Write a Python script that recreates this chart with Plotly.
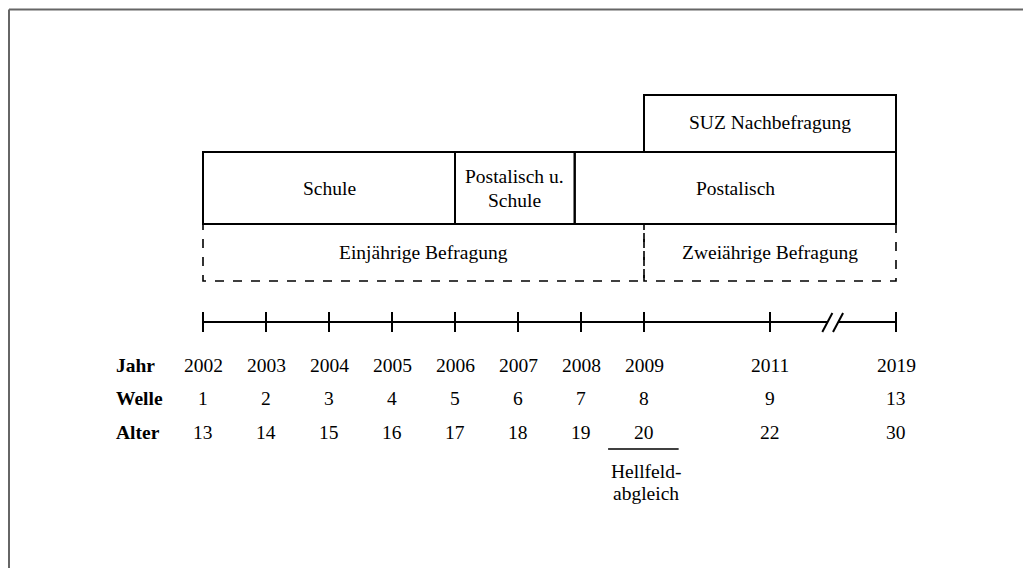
import plotly.graph_objects as go

# ---------------- data ----------------
years = ["2002", "2003", "2004", "2005", "2006", "2007", "2008", "2009", "2011", "2019"]
waves = ["1", "2", "3", "4", "5", "6", "7", "8", "9", "13"]
ages = ["13", "14", "15", "16", "17", "18", "19", "20", "22", "30"]
tick_pos = [0, 1, 2, 3, 4, 5, 6, 7, 9, 11]          # timeline position of each wave
row_labels = ["Jahr", "Welle", "Alter"]

mode_labels = [["Schule"], ["Postalisch u.", "Schule"], ["Postalisch"]]
mode_start = [0, 4, 5.9]
mode_end = [4, 5.9, 11]

followup_labels = ["SUZ Nachbefragung"]
followup_start = [7]
followup_end = [11]

interval_labels = ["Einjährige Befragung", "Zweiährige Befragung"]
interval_start = [0, 7]
interval_end = [7, 11]

break_pos = 10
hellfeld_pos = 7
hellfeld_lines = ["Hellfeld-", "abgleich"]

# ---------------- layout constants ----------------
W, H = 1031, 568
OFF = 8                        # page offset of the plot (body margin)
PX0, PXU = 203, 63.0           # page pixel of position 0 and pixels per unit
FONT = "Liberation Serif, Times New Roman, serif"
FS = 19.5

Y_SUZ_TOP, Y_BOX_TOP, Y_BOX_BOT, Y_DASH_BOT = 95, 152, 224, 281
Y_LINE, TICK_H = 322, 10
Y_ROWS = [365, 398, 432]
Y_HELL_LINE, Y_HELL_TXT = 449, [471, 493]

fig = go.Figure()
shapes = []
ann = []


def txt(x, y, t, bold=False, xanchor="center"):
    ann.append(dict(x=x, y=y, xref="x", yref="y", text=(f"<b>{t}</b>" if bold else t),
                    showarrow=False, xanchor=xanchor, yanchor="middle",
                    font=dict(family=FONT, size=FS, color="black")))


solid = dict(color="black", width=2)
dashed = dict(color="black", width=1.6, dash="dash")

# mode boxes
for lab, s, e in zip(mode_labels, mode_start, mode_end):
    shapes.append(dict(type="rect", xref="x", yref="y", x0=s, x1=e, y0=Y_BOX_TOP, y1=Y_BOX_BOT,
                       line=solid, fillcolor="rgba(0,0,0,0)"))
    mid = (Y_BOX_TOP + Y_BOX_BOT) / 2
    n = len(lab)
    for i, l in enumerate(lab):
        txt((s + e) / 2, mid + (i - (n - 1) / 2) * 24, l)

# follow-up box
for lab, s, e in zip(followup_labels, followup_start, followup_end):
    shapes.append(dict(type="rect", xref="x", yref="y", x0=s, x1=e, y0=Y_SUZ_TOP, y1=Y_BOX_TOP,
                       line=solid, fillcolor="rgba(0,0,0,0)"))
    txt((s + e) / 2, (Y_SUZ_TOP + Y_BOX_TOP) / 2 - 1, lab)

# interval boxes (dashed)
for lab, s, e in zip(interval_labels, interval_start, interval_end):
    shapes.append(dict(type="rect", xref="x", yref="y", x0=s, x1=e, y0=Y_BOX_BOT, y1=Y_DASH_BOT,
                       line=dashed, fillcolor="rgba(0,0,0,0)"))
    txt((s + e) / 2, (Y_BOX_BOT + Y_DASH_BOT) / 2, lab)

# timeline with break
gap = 0.09
shapes.append(dict(type="line", xref="x", yref="y", x0=tick_pos[0], x1=break_pos - gap,
                   y0=Y_LINE, y1=Y_LINE, line=solid))
shapes.append(dict(type="line", xref="x", yref="y", x0=break_pos + gap, x1=tick_pos[-1],
                   y0=Y_LINE, y1=Y_LINE, line=solid))
for off in (-0.17, 0.0):
    shapes.append(dict(type="line", xref="x", yref="y", x0=break_pos + off, x1=break_pos + off + 0.16,
                       y0=Y_LINE + 10, y1=Y_LINE - 9, line=solid))
for p in tick_pos:
    shapes.append(dict(type="line", xref="x", yref="y", x0=p, x1=p,
                       y0=Y_LINE - TICK_H, y1=Y_LINE + TICK_H, line=solid))

# row labels and values
for lab, y in zip(row_labels, Y_ROWS):
    txt((114 - PX0) / PXU, y, lab, bold=True, xanchor="left")
for row, y in zip([years, waves, ages], Y_ROWS):
    for p, v in zip(tick_pos, row):
        txt(p, y, v)

# Hellfeldabgleich
shapes.append(dict(type="line", xref="x", yref="y", x0=hellfeld_pos - 0.57, x1=hellfeld_pos + 0.55,
                   y0=Y_HELL_LINE, y1=Y_HELL_LINE, line=dict(color="black", width=1.5)))
for l, y in zip(hellfeld_lines, Y_HELL_TXT):
    txt(hellfeld_pos + 0.03, y, l)

# outer frame (top and left edges visible)
shapes.append(dict(type="line", xref="paper", yref="paper", x0=1 / W, x1=1.01,
                   y0=1 - 1.5 / H, y1=1 - 1.5 / H, line=dict(color="#666666", width=2)))
shapes.append(dict(type="line", xref="paper", yref="paper", x0=1 / W, x1=1 / W,
                   y0=1 - 1.5 / H, y1=-0.01, line=dict(color="#666666", width=2)))

fig.update_layout(
    width=W, height=H,
    margin=dict(l=0, r=0, t=0, b=0),
    paper_bgcolor="white", plot_bgcolor="white",
    showlegend=False,
    shapes=shapes, annotations=ann,
    xaxis=dict(range=[(OFF - PX0) / PXU, (W + OFF - PX0) / PXU], visible=False, fixedrange=True),
    yaxis=dict(range=[H + OFF, OFF], visible=False, fixedrange=True),
)

fig.write_html("out.html")
